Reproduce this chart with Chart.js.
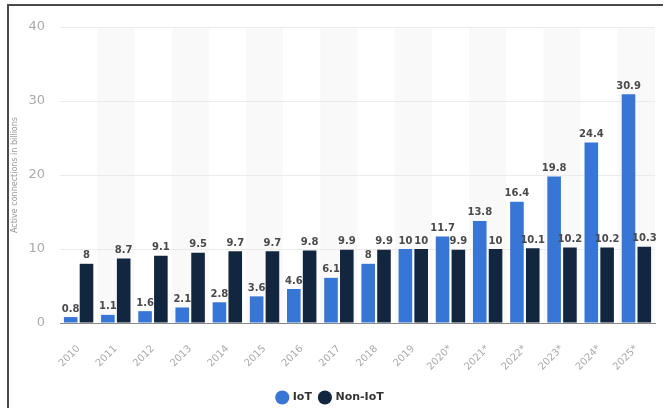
<!DOCTYPE html>
<html>
<head>
<meta charset="utf-8">
<script src="https://cdn.jsdelivr.net/npm/chart.js"></script>
<style>
  body { margin: 0; background: #fff; }
  #wrap { position: relative; width: 666px; height: 408px; }
  #frame { position: absolute; left: 7px; top: 4px; right: 3px; bottom: -2px;
           border-top: 2px solid #4a4a4a; border-left: 2px solid #4a4a4a; pointer-events: none; }
</style>
</head>
<body>
<div id="wrap">
  <canvas id="myChart" width="666" height="408"></canvas>
  <div id="frame"></div>
</div>
<script>
var years = ['2010', '2011', '2012', '2013', '2014', '2015', '2016', '2017', '2018', '2019',
  '2020*', '2021*', '2022*', '2023*', '2024*', '2025*']
var iotValues = [0.8, 1.1, 1.6, 2.1, 2.8, 3.6, 4.6, 6.1, 8, 10, 11.7, 13.8, 16.4, 19.8, 24.4, 30.9]
var nonIotValues = [8, 8.7, 9.1, 9.5, 9.7, 9.7, 9.8, 9.9, 9.9, 10, 9.9, 10, 10.1, 10.2, 10.2, 10.3]
var yTicks = [0, 10, 20, 30, 40]

// light grey band behind every second year
var bandPlugin = {
  id: 'bands',
  beforeDraw(chart) {
    var ctx = chart.ctx
    var area = chart.chartArea
    var x = chart.scales.x
    var w = (area.right - area.left) / years.length
    ctx.save()
    ctx.fillStyle = '#f9f9f9'
    years.forEach(function (y, i) {
      if (i % 2 === 1) {
        var cx = x.getPixelForValue(i)
        ctx.fillRect(cx - w / 2, area.top, w, area.bottom - area.top)
      }
    })
    ctx.restore()
  }
}

// value labels above the bars
var labelPlugin = {
  id: 'valueLabels',
  afterDatasetsDraw(chart) {
    var ctx = chart.ctx
    ctx.save()
    ctx.font = 'bold 10px "DejaVu Sans", sans-serif'
    ctx.fillStyle = '#4a4a4a'
    ctx.textAlign = 'center'
    ctx.textBaseline = 'bottom'
    chart.data.datasets.forEach(function (ds, di) {
      chart.getDatasetMeta(di).data.forEach(function (bar, i) {
        ctx.fillText(String(ds.data[i]), bar.x, bar.y - 3)
      })
    })
    ctx.restore()
  }
}

new Chart(document.getElementById('myChart'), {
  type: 'bar',
  data: {
    labels: years,
    datasets: [
      { label: 'IoT', data: iotValues, backgroundColor: '#3776d4' },
      { label: 'Non-IoT', data: nonIotValues, backgroundColor: '#13263f' }
    ]
  },
  options: {
    responsive: false,
    animation: false,
    categoryPercentage: 0.85,
    barPercentage: 0.86,
    layout: { padding: { left: 6, right: 11, top: 27, bottom: -5 } },
    plugins: {
      tooltip: { enabled: false },
      legend: {
        position: 'bottom',
        labels: {
          usePointStyle: true,
          pointStyle: 'circle',
          boxWidth: 10,
          boxHeight: 10,
          padding: 8,
          color: '#333',
          font: { family: '"DejaVu Sans", sans-serif', size: 11, weight: 'bold' }
        }
      }
    },
    scales: {
      x: {
        grid: { display: false },
        border: { color: '#888', width: 1 },
        afterFit(axis) {
          axis.height = 61
        },
        ticks: {
          minRotation: 45,
          maxRotation: 45,
          padding: 12,
          color: '#aaa',
          font: { family: '"DejaVu Sans", sans-serif', size: 10 }
        }
      },
      y: {
        min: 0,
        max: 40,
        afterBuildTicks(axis) {
          axis.ticks = yTicks.map(function (v) { return { value: v } })
        },
        afterFit(axis) {
          axis.width = 54
        },
        grid: { color: '#ebebeb', drawTicks: false },
        border: { display: false },
        ticks: {
          padding: 15,
          color: '#aaa',
          font: { family: '"DejaVu Sans", sans-serif', size: 13 }
        },
        title: {
          display: true,
          text: 'Active connections in billions',
          color: '#999',
          font: { family: '"DejaVu Sans", sans-serif', size: 8 }
        }
      }
    }
  },
  plugins: [bandPlugin, labelPlugin]
})
</script>
</body>
</html>
